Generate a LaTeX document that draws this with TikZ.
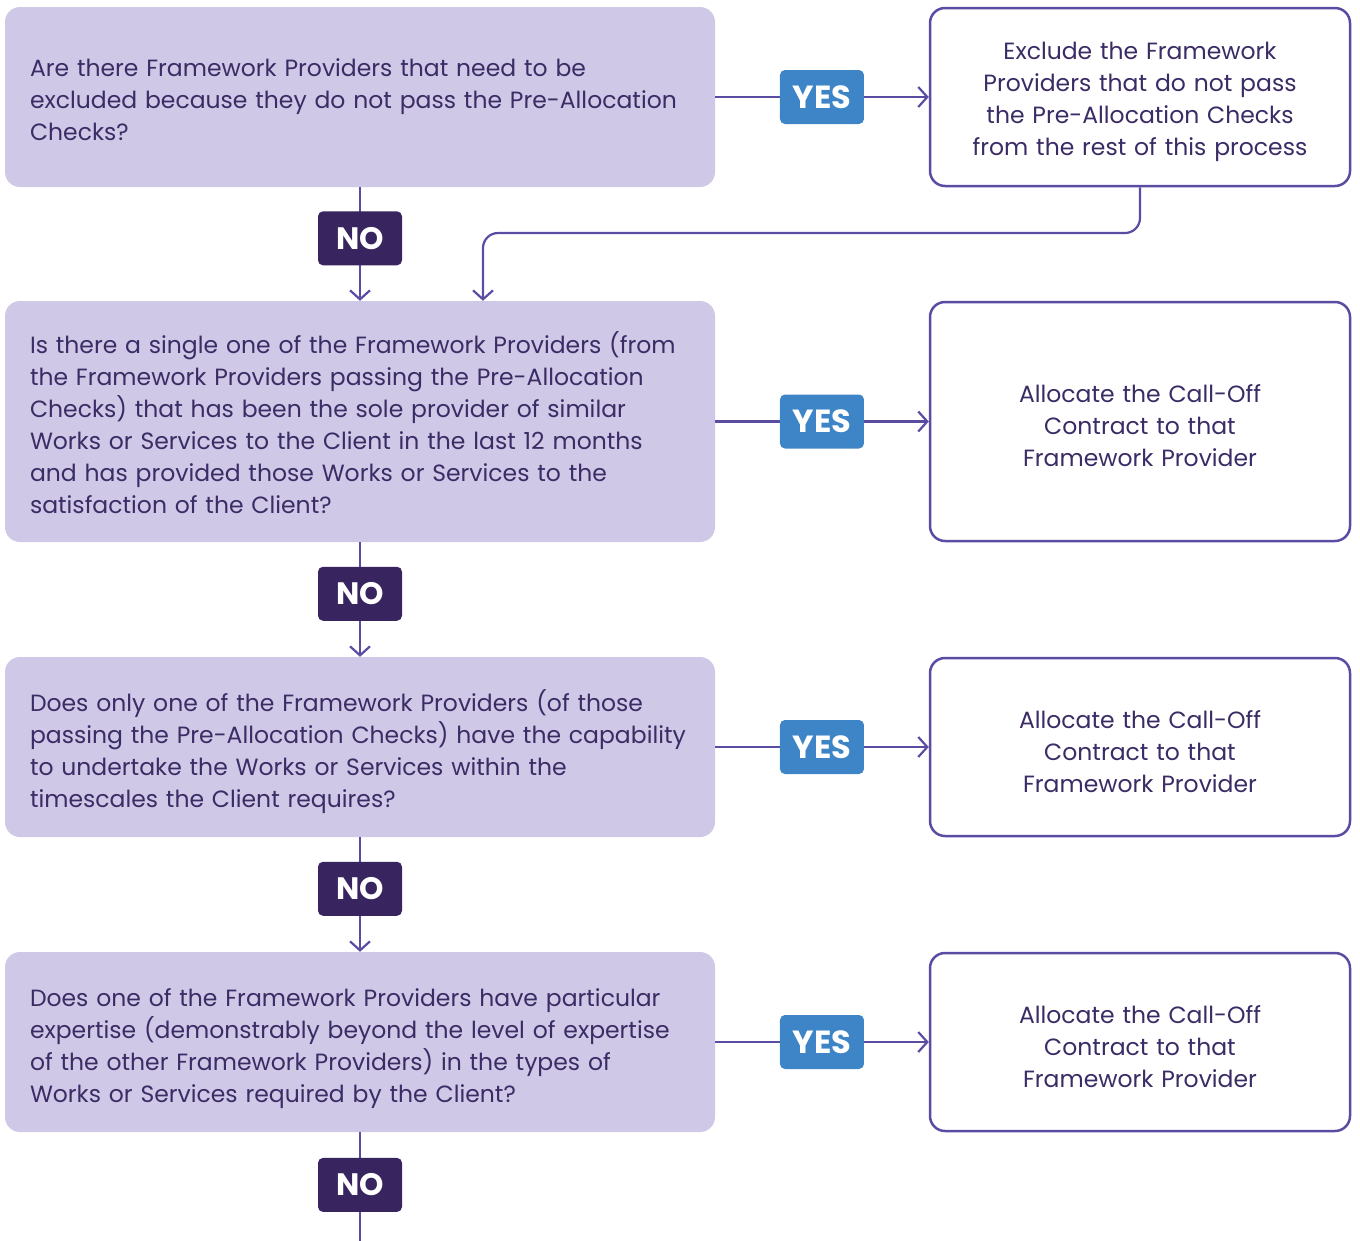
\documentclass[tikz,border=0pt]{standalone}
\usepackage{fontspec}
\setmainfont{Poppins}
\usetikzlibrary{arrows.meta,calc}
\definecolor{qfill}{HTML}{CFC8E6}
\definecolor{txt}{HTML}{3B2C66}
\definecolor{lnc}{HTML}{5A4CA3}
\definecolor{nofill}{HTML}{38245F}
\definecolor{yesfill}{HTML}{3D85C6}
\tikzset{
  qbox/.style={fill=qfill, draw=none, rounded corners=15pt, minimum width=710pt, inner xsep=25pt, text width=660pt, align=left, text=txt, font=\fontsize{23.5pt}{32pt}\selectfont, execute at begin node={\rule{0pt}{24pt}}},
  qboxlow/.style={qbox, execute at begin node={\rule{0pt}{31pt}}},
  abox/.style={fill=white, draw=lnc, line width=2.5pt, rounded corners=15pt, minimum width=420pt, text width=400pt, align=center, text=txt, font=\fontsize{23.5pt}{32pt}\selectfont, execute at begin node={\rule{0pt}{27pt}}},
  yesbox/.style={fill=yesfill, rounded corners=5pt, minimum width=84pt, minimum height=54pt, text=white, font=\fontsize{32pt}{34pt}\selectfont\bfseries, inner sep=0pt},
  nobox/.style={fill=nofill, rounded corners=5pt, minimum width=84pt, minimum height=54pt, text=white, font=\fontsize{31pt}{34pt}\selectfont\bfseries, inner sep=0pt},
  conn/.style={draw=lnc, line width=2.2pt},
  arr/.style={conn, -{Straight Barb[length=9pt,width=20pt,line width=2.2pt]}},
}
\begin{document}
\begin{tikzpicture}[x=1pt,y=-1pt]
\useasboundingbox (0,0) rectangle (1360,1240);
\node[qbox, minimum height=180pt] (q1) at (360,97) {Are there Framework Providers that need to be\\excluded because they do not pass the Pre-Allocation\\Checks?};
\node[qbox, minimum height=241pt] (q2) at (360,421.5) {Is there a single one of the Framework Providers (from\\the Framework Providers passing the Pre-Allocation\\Checks) that has been the sole provider of similar\\Works or Services to the Client in the last 12 months\\and has provided those Works or Services to the\\satisfaction of the Client?};
\node[qboxlow, minimum height=180pt] (q3) at (360,747) {Does only one of the Framework Providers (of those\\passing the Pre-Allocation Checks) have the capability\\to undertake the Works or Services within the\\timescales the Client requires?};
\node[qboxlow, minimum height=180pt] (q4) at (360,1042) {Does one of the Framework Providers have particular\\expertise (demonstrably beyond the level of expertise\\of the other Framework Providers) in the types of\\Works or Services required by the Client?};

\node[abox, minimum height=178pt] (r1) at (1140,97) {Exclude the Framework\\Providers that do not pass\\the Pre-Allocation Checks\\from the rest of this process};
\node[abox, minimum height=239pt] (r2) at (1140,421.5) {Allocate the Call-Off\\Contract to that\\Framework Provider};
\node[abox, minimum height=178pt] (r3) at (1140,747) {Allocate the Call-Off\\Contract to that\\Framework Provider};
\node[abox, minimum height=178pt] (r4) at (1140,1042) {Allocate the Call-Off\\Contract to that\\Framework Provider};

\foreach \i in {1,2,3,4}{
  \draw[arr] (q\i.east) -- (r\i.west) node[yesbox, pos=0.5] (y\i) {YES};
}
\draw[arr] (q1.south) -- (q2.north) node[nobox, pos=0.45] (n1) {NO};
\draw[arr] (q2.south) -- (q3.north) node[nobox, pos=0.45] (n2) {NO};
\draw[arr] (q3.south) -- (q4.north) node[nobox, pos=0.45] (n3) {NO};
\coordinate (bot) at (360,1242);
\draw[conn] (q4.south) -- (bot) node[nobox, pos=0.48] (n4) {NO};

\coordinate (j) at (483,233);
\draw[arr, rounded corners=15pt] (r1.south) |- (j) -- (j |- q2.north);
\end{tikzpicture}
\end{document}
